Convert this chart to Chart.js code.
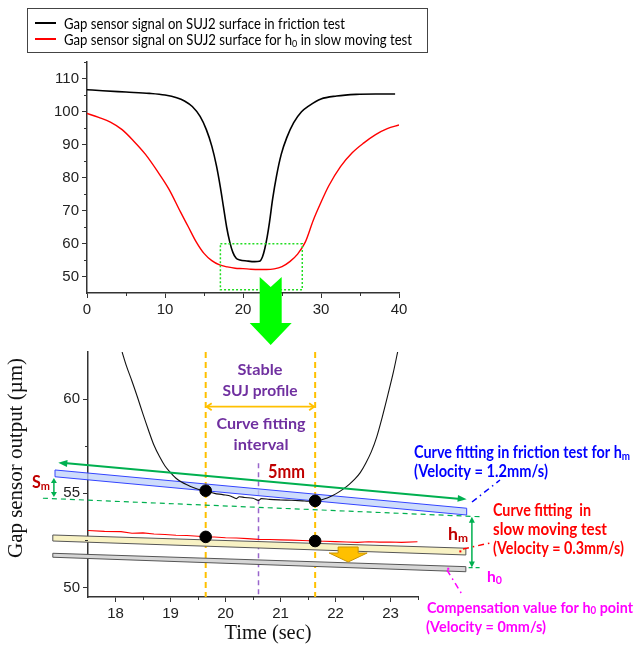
<!DOCTYPE html>
<html><head><meta charset="utf-8">
<script src="https://cdn.jsdelivr.net/npm/chart.js@4/dist/chart.umd.min.js"></script>
<style>
html,body{margin:0;padding:0;background:#fff;}
#wrap{position:relative;width:635px;height:646px;overflow:hidden;background:#fff;}
canvas{position:absolute;left:0;top:0;}
</style></head><body>
<div id="wrap"><canvas id="topChart" width="635" height="646"></canvas><canvas id="zoomChart" width="635" height="646"></canvas></div>
<script>
// ---------------- data ----------------
const frictionTopTime  = [0, 2, 5, 8, 10, 11.5, 12.5, 13.5, 14.5, 15.3, 16, 16.6, 17.1, 17.5, 17.9, 18.3, 18.7, 19.1, 19.6, 20.5, 21.5, 22.1, 22.5, 22.8, 23.1, 23.4, 23.8, 24.3, 24.9, 25.6, 26.5, 27.5, 28.5, 30, 32, 34.5, 37, 39.5];
const frictionTopValue = [106.6, 106.3, 105.9, 105.5, 105.0, 104.2, 103.2, 101.5, 98.5, 94.5, 89.5, 83.5, 77, 71, 65, 60.5, 57.3, 55.6, 55.0, 54.7, 54.5, 54.6, 56, 58.5, 62, 66.5, 73.5, 80.5, 87, 92, 96.6, 99.9, 101.8, 103.8, 104.7, 105.2, 105.3, 105.3];
const slowTopTime  = [0, 1.5, 3, 4.5, 6, 7.5, 9, 10.5, 12, 13, 14, 15, 16, 17, 18, 19, 20, 21, 22, 23, 24, 25, 26, 27, 28, 29, 30, 31, 32.5, 34, 35.5, 37, 38.5, 40];
const slowTopValue = [99.4, 98.2, 96.8, 94.5, 91, 87, 82, 76.5, 69.5, 65, 60.5, 57, 54.8, 53.5, 52.9, 52.5, 52.4, 52.2, 52.1, 52.1, 52.3, 53, 54.5, 56.8, 60.5, 67, 72.5, 77.5, 83.3, 87.5, 90.5, 93, 94.8, 95.9];
const topXTicks = [0, 10, 20, 30, 40];
const topYTicks = [50, 60, 70, 80, 90, 100, 110];
const topXMinor = [5, 15, 25, 35];
const topYMinor = [55, 65, 75, 85, 95, 105, 115];

const frictionZoomTime  = [18.12, 18.2, 18.3, 18.4, 18.5, 18.6, 18.7, 18.8, 18.9, 19.0, 19.1, 19.2, 19.3, 19.4, 19.5, 19.64, 19.8, 19.95, 20.1, 20.2, 20.25, 20.35, 20.5, 20.6, 20.65, 20.8, 21.0, 21.2, 21.4, 21.5, 21.63, 21.75, 21.85, 21.95, 22.05, 22.15, 22.25, 22.35, 22.45, 22.55, 22.65, 22.75, 22.85, 22.95, 23.05, 23.13];
const frictionZoomValue = [62.5, 61.75, 60.95, 60.1, 59.2, 58.35, 57.55, 56.95, 56.45, 56.1, 55.8, 55.6, 55.45, 55.32, 55.22, 55.12, 55.0, 54.93, 54.85, 54.72, 54.82, 54.78, 54.74, 54.62, 54.72, 54.68, 54.65, 54.63, 54.6, 54.58, 54.58, 54.66, 54.75, 54.88, 55.05, 55.25, 55.48, 55.75, 56.1, 56.6, 57.2, 58.0, 59.05, 60.2, 61.4, 62.5];
const slowZoomTime  = [17.5, 17.8, 18.1, 18.3, 18.5, 18.7, 18.9, 19.1, 19.3, 19.5, 19.64, 19.8, 20.0, 20.2, 20.4, 20.6, 20.8, 21.0, 21.2, 21.4, 21.63, 21.8, 22.0, 22.2, 22.4, 22.6, 22.8, 23.0, 23.2, 23.49];
const slowZoomValue = [53.03, 52.98, 52.97, 52.88, 52.9, 52.84, 52.82, 52.78, 52.76, 52.72, 52.69, 52.68, 52.64, 52.63, 52.6, 52.56, 52.55, 52.53, 52.52, 52.5, 52.47, 52.46, 52.44, 52.42, 52.4, 52.43, 52.41, 52.42, 52.4, 52.43];
const fitTime = [19.64, 21.63];
const fitFriction = [55.14, 54.6];
const fitSlow = [52.69, 52.47];
const zoomXTicks = [18, 19, 20, 21, 22, 23];
const zoomYTicks = [50, 55, 60];
const zoomXMinor = [18.5, 19.5, 20.5, 21.5, 22.5, 23.5];
const zoomYMinor = [52.5, 57.5];

const legendLabels = ['Gap sensor signal on SUJ2 surface in friction test', 'Gap sensor signal on SUJ2 surface for h_0 in slow moving test'];
const xTitle = 'Time (sec)';
const yTitle = 'Gap sensor output (\u00b5m)';

// ---------------- helpers ----------------
const SANS = '"Lato", "Liberation Sans", sans-serif';
const SERIF = '"Liberation Serif", "Times New Roman", serif';
function segs(str){const out=[];const re=/_(\w)/g;let last=0,m;while((m=re.exec(str))){if(m.index>last)out.push({t:str.slice(last,m.index)});out.push({t:m[1],sub:true});last=re.lastIndex;}if(last<str.length)out.push({t:str.slice(last)});return out;}
function richWidth(ctx,sg,size,weight,family){let w=0;for(const s of sg){ctx.font=`${weight} ${s.sub?size*0.68:size}px ${family}`;w+=ctx.measureText(s.t).width;}return w;}
function drawRich(ctx,str,x,y,o){
  const sg=segs(str);const weight=o.weight||'bold';const family=o.family||SANS;
  const size=o.size||14.5;
  const w=richWidth(ctx,sg,size,weight,family);
  const sx=o.width?o.width/w:1;
  const tw=w*sx;
  const start=o.align==='center'?x-tw/2:x;
  ctx.save();ctx.translate(start,y);ctx.scale(sx,1);
  ctx.fillStyle=o.color||'#000';ctx.textBaseline='middle';ctx.textAlign='left';
  let cx=0;
  for(const s of sg){const sz=s.sub?size*0.68:size;ctx.font=`${weight} ${sz}px ${family}`;ctx.fillText(s.t,cx,(s.sub?size*0.2:0));cx+=ctx.measureText(s.t).width;}
  ctx.restore();
}
function line(ctx,x1,y1,x2,y2,color,width,dash){ctx.save();ctx.strokeStyle=color;ctx.lineWidth=width;ctx.setLineDash(dash||[]);ctx.beginPath();ctx.moveTo(x1,y1);ctx.lineTo(x2,y2);ctx.stroke();ctx.restore();}
function headFilled(ctx,x1,y1,x2,y2,color,len,half){const a=Math.atan2(y2-y1,x2-x1);ctx.save();ctx.fillStyle=color;ctx.beginPath();ctx.moveTo(x2,y2);ctx.lineTo(x2-len*Math.cos(a)+half*Math.sin(a),y2-len*Math.sin(a)-half*Math.cos(a));ctx.lineTo(x2-len*Math.cos(a)-half*Math.sin(a),y2-len*Math.sin(a)+half*Math.cos(a));ctx.closePath();ctx.fill();ctx.restore();}
function headOpen(ctx,x1,y1,x2,y2,color,len,half,w){const a=Math.atan2(y2-y1,x2-x1);ctx.save();ctx.strokeStyle=color;ctx.lineWidth=w;ctx.beginPath();ctx.moveTo(x2-len*Math.cos(a)+half*Math.sin(a),y2-len*Math.sin(a)-half*Math.cos(a));ctx.lineTo(x2,y2);ctx.lineTo(x2-len*Math.cos(a)-half*Math.sin(a),y2-len*Math.sin(a)+half*Math.cos(a));ctx.stroke();ctx.restore();}
function poly(ctx,pts,fill,stroke,w){ctx.save();ctx.beginPath();pts.forEach((p,i)=>i?ctx.lineTo(p[0],p[1]):ctx.moveTo(p[0],p[1]));ctx.closePath();if(fill){ctx.fillStyle=fill;ctx.fill();}if(stroke){ctx.strokeStyle=stroke;ctx.lineWidth=w||1;ctx.stroke();}ctx.restore();}
function minorTicks(chart,xs,ys){const {ctx,scales:{x,y},chartArea:a}=chart;ctx.save();ctx.strokeStyle='#333';ctx.lineWidth=1;
  xs.forEach(v=>{const p=Math.round(x.getPixelForValue(v))+0.5;ctx.beginPath();ctx.moveTo(p,a.bottom);ctx.lineTo(p,a.bottom+3);ctx.stroke();});
  ys.forEach(v=>{const p=Math.round(y.getPixelForValue(v))+0.5;ctx.beginPath();ctx.moveTo(a.left,p);ctx.lineTo(a.left-3,p);ctx.stroke();});
  ctx.restore();}
const pts=(t,v)=>t.map((x,i)=>({x:x,y:v[i]}));
function axisCommon(ticksArr,fitFn){return {
  type:'linear',afterBuildTicks:s=>{s.ticks=ticksArr.map(v=>({value:v}));},afterFit:fitFn,
  grid:{drawOnChartArea:false,drawTicks:true,tickLength:5,color:'#333',lineWidth:1},
  border:{display:true,color:'#333',width:1.5},
  ticks:{font:{family:'"Liberation Sans", Arial, sans-serif',size:15},color:'#222',padding:3}
};}

// ---------------- top chart ----------------
const topDeco={id:'topDeco',
  afterDraw(chart){
    const {ctx,scales:{x,y}}=chart;
    minorTicks(chart,topXMinor,topYMinor);
    ctx.save();ctx.strokeStyle='#444';ctx.lineWidth=1;ctx.strokeRect(27.5,8.5,400,44);ctx.restore();
    line(ctx,35,23,56,23,'#000',2);
    line(ctx,35,39,56,39,'#FF0000',2);
    drawRich(ctx,legendLabels[0],64,24,{weight:'normal',size:15,width:281,color:'#000'});
    drawRich(ctx,legendLabels[1],64,40.5,{weight:'normal',size:15,width:348,color:'#000'});
    ctx.save();ctx.strokeStyle='#22DD22';ctx.lineWidth=1.5;ctx.setLineDash([2,2]);
    const x1=x.getPixelForValue(17.1),x2=x.getPixelForValue(27.6),y1=y.getPixelForValue(59.9),y2=y.getPixelForValue(46);
    ctx.strokeRect(x1,y1,x2-x1,y2-y1);ctx.restore();
    const cx=x.getPixelForValue(23.55);
    poly(ctx,[[cx-11,277],[cx,287],[cx+11,277],[cx+11,323],[cx+21,323],[cx,345],[cx-21,323],[cx-11,323]],'#00FF00');
  }};
new Chart(document.getElementById('topChart'),{
  type:'line',
  data:{datasets:[
    {data:pts(frictionTopTime,frictionTopValue),borderColor:'#000',borderWidth:1.6,pointRadius:0,cubicInterpolationMode:'monotone'},
    {data:pts(slowTopTime,slowTopValue),borderColor:'#FF0000',borderWidth:1.4,pointRadius:0,cubicInterpolationMode:'monotone'}
  ]},
  options:{responsive:false,animation:false,devicePixelRatio:1,
    layout:{padding:{left:0,right:236,top:62,bottom:323}},
    plugins:{legend:{display:false},tooltip:{enabled:false}},
    scales:{
      x:Object.assign(axisCommon(topXTicks,s=>{s.height=30;}),{min:0,max:40}),
      y:Object.assign(axisCommon(topYTicks,s=>{s.width=87;}),{min:45,max:115})
    }},
  plugins:[topDeco]
});

// ---------------- zoom chart ----------------
const zoomDeco={id:'zoomDeco',
  beforeDatasetsDraw(chart){
    const {ctx,scales:{x,y},chartArea:a}=chart;
    const X=v=>x.getPixelForValue(v),Y=v=>y.getPixelForValue(v);
    fitTime.forEach(t=>line(ctx,X(t),a.top,X(t),a.bottom,'#FFC000',2,[6,4]));
    line(ctx,X(20.6),Y(56.6),X(20.6),a.bottom,'#9966CC',1.5,[5,4]);
    poly(ctx,[[X(16.9),Y(56.24)],[X(24.385),Y(54.21)],[X(24.385),Y(53.85)],[X(16.9),Y(55.88)]],'rgba(190,208,250,0.75)','#3344FF',1);
    poly(ctx,[[X(16.86),Y(52.79)],[X(24.37),Y(52.09)],[X(24.37),Y(51.73)],[X(16.86),Y(52.47)]],'#F8F2C4','#555',1);
    poly(ctx,[[X(16.86),Y(51.82)],[X(24.37),Y(51.11)],[X(24.37),Y(50.84)],[X(16.86),Y(51.61)]],'#D6D6D6','#555',1);
    ctx.save();ctx.fillStyle='#FF0000';ctx.fillRect(X(24.27)-1,Y(51.92)-1,2,2);ctx.fillStyle='#FF00FF';ctx.fillRect(X(24.05)-1,Y(51.0)-1,2,2);ctx.restore();
  },
  afterDraw(chart){
    const {ctx,scales:{x,y},chartArea:a}=chart;
    const X=v=>x.getPixelForValue(v),Y=v=>y.getPixelForValue(v);
    minorTicks(chart,zoomXMinor,zoomYMinor);
    const ya=Y(59.6);
    line(ctx,X(19.64)+1,ya,X(21.63)-1,ya,'#FFC000',1.8);
    headOpen(ctx,X(21.63)-20,ya,X(21.63)-1,ya,'#FFC000',5,3.5,1.8);
    headOpen(ctx,X(19.64)+20,ya,X(19.64)+1,ya,'#FFC000',5,3.5,1.8);
    drawRich(ctx,'Stable',260,370,{color:'#7030A0',size:15.5,width:45,align:'center'});
    drawRich(ctx,'SUJ profile',260,391,{color:'#7030A0',size:15.5,width:75,align:'center'});
    drawRich(ctx,'Curve fitting',261,424,{color:'#7030A0',size:15.5,width:89,align:'center'});
    drawRich(ctx,'interval',261,445,{color:'#7030A0',size:15.5,width:55,align:'center'});
    drawRich(ctx,'5mm',268,472,{color:'#C00000',size:18,width:37});
    const gx1=X(16.96),gy1=Y(56.63),gx2=X(24.385),gy2=Y(54.69);
    line(ctx,gx1+6,gy1+0.3,gx2-6,gy2-0.3,'#00B050',2);
    headFilled(ctx,gx2,gy2,gx1,gy1,'#00B050',9,3.5);
    headFilled(ctx,gx1,gy1,gx2,gy2,'#00B050',9,3.5);
    line(ctx,X(16.68),Y(54.74),X(24.63),Y(53.76),'#00B050',1.2,[5,4]);
    const sx=X(16.88);
    line(ctx,sx,Y(55.82)+4,sx,Y(54.81)-4,'#00B050',1.5);
    headFilled(ctx,sx,Y(54.81),sx,Y(55.82),'#00B050',5,3);
    headFilled(ctx,sx,Y(55.82),sx,Y(54.81),'#00B050',5,3);
    drawRich(ctx,'S_m',32,483,{color:'#C00000',size:16.5,width:18});
    const hx=X(24.48);
    line(ctx,hx,Y(53.76)+5,hx,Y(51.06)-5,'#00B050',1.5);
    headFilled(ctx,hx,Y(51.06),hx,Y(53.76),'#00B050',6,3);
    headFilled(ctx,hx,Y(53.76),hx,Y(51.06),'#00B050',6,3);
    line(ctx,X(24.42),Y(51.06),X(24.66),Y(51.06),'#00B050',1.2,[4,3]);
    drawRich(ctx,'h_m',448,535,{color:'#C00000',size:17,width:20});
    const ox=X(22.23);
    poly(ctx,[[ox-10,547],[ox+10,547],[ox+10,553],[ox+19,553],[ox,562],[ox-19,553],[ox-10,553]],'#FFC000','#C99400',1);
    line(ctx,472,502,500,480,'#0000FF',1.5,[6,4,1.5,4]);
    line(ctx,463,549,490,543,'#FF0000',1.5,[6,4,1.5,4]);
    line(ctx,447,570,463,596,'#FF00FF',1.5,[6,4,1.5,4]);
    drawRich(ctx,'Curve fitting in friction test for h_m',414,453,{color:'#0000FF',size:16.5,width:216});
    drawRich(ctx,'(Velocity = 1.2mm/s)',414,472,{color:'#0000FF',size:16.5,width:134});
    drawRich(ctx,'Curve fitting  in',493,511,{color:'#FF0000',size:16.5,width:98});
    drawRich(ctx,'slow moving test',493,530,{color:'#FF0000',size:16.5,width:114});
    drawRich(ctx,'(Velocity = 0.3mm/s)',493,549,{color:'#FF0000',size:16.5,width:131});
    drawRich(ctx,'h_0',487,577,{color:'#FF00FF',size:16,width:15});
    drawRich(ctx,'Compensation value for h_0 point',427,608,{color:'#FF00FF',size:15.5,width:206});
    drawRich(ctx,'(Velocity = 0mm/s)',426,627,{color:'#FF00FF',size:15.5,width:120});
    drawRich(ctx,xTitle,268,633,{color:'#111',weight:'normal',family:SERIF,size:21,width:87,align:'center'});
    ctx.save();ctx.translate(16,458);ctx.rotate(-Math.PI/2);
    drawRich(ctx,yTitle,0,0,{color:'#111',weight:'normal',family:SERIF,size:21,width:200,align:'center'});
    ctx.restore();
  }};
new Chart(document.getElementById('zoomChart'),{
  type:'line',
  data:{datasets:[
    {data:pts(fitTime,fitFriction).concat(pts(fitTime,fitSlow)),showLine:false,pointRadius:5.8,pointBackgroundColor:'#000',pointBorderColor:'#000'},
    {data:pts(frictionZoomTime,frictionZoomValue),borderColor:'#111',borderWidth:1.1,pointRadius:0,cubicInterpolationMode:'monotone'},
    {data:pts(slowZoomTime,slowZoomValue),borderColor:'#FF0000',borderWidth:1.1,pointRadius:0}
  ]},
  options:{responsive:false,animation:false,devicePixelRatio:1,
    layout:{padding:{left:0,right:217,top:352,bottom:19}},
    plugins:{legend:{display:false},tooltip:{enabled:false}},
    scales:{
      x:Object.assign(axisCommon(zoomXTicks,s=>{s.height=30;}),{min:17.5,max:23.5}),
      y:Object.assign(axisCommon(zoomYTicks,s=>{s.width=88;}),{min:49.5,max:62.5})
    }},
  plugins:[zoomDeco]
});
</script>
</body></html>
